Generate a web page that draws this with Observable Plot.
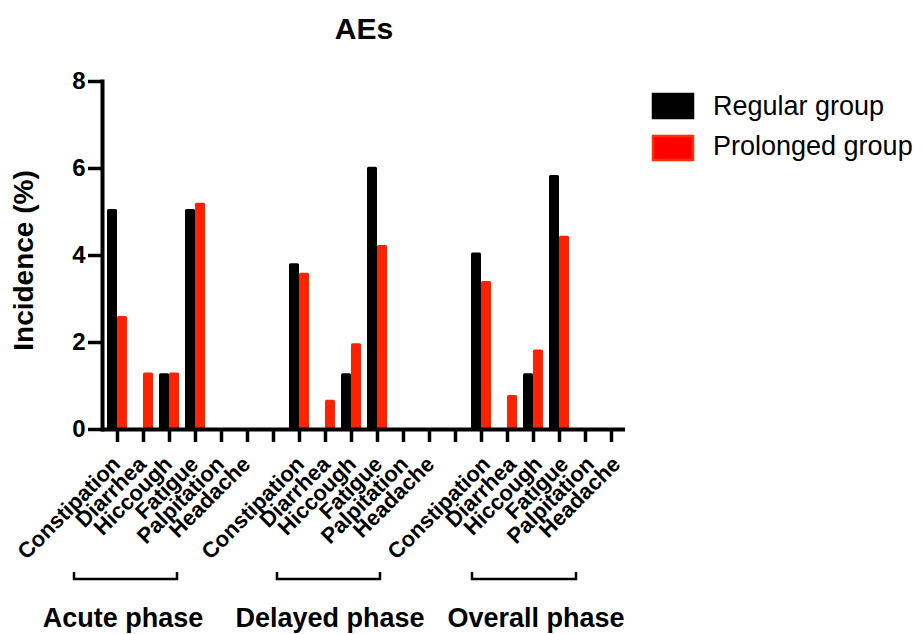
<!DOCTYPE html>
<html>
<head>
<meta charset="utf-8">
<script src="https://cdn.jsdelivr.net/npm/d3@7"></script>
<script src="https://cdn.jsdelivr.net/npm/@observablehq/plot@0.6"></script>
<style>
  html, body { margin: 0; padding: 0; background: #fff; }
  #chart { width: 922px; height: 634px; overflow: hidden; }
</style>
</head>
<body>
<div id="chart"></div>
<script>
// ---- data ----
const aes = ["Constipation", "Diarrhea", "Hiccough", "Fatigue", "Palpitation", "Headache"];
const phaseKeys = ["Acute", "Delayed", "Overall"];
const phaseNames = ["Acute phase", "Delayed phase", "Overall phase"];
const seriesNames = ["Regular group", "Prolonged group"];

const regularAcute     = [5.06, 0, 1.28, 5.06, 0, 0];
const prolongedAcute   = [2.60, 1.30, 1.30, 5.20, 0, 0];
const regularDelayed   = [3.81, 0, 1.28, 6.03, 0, 0];
const prolongedDelayed = [3.59, 0.67, 1.97, 4.23, 0, 0];
const regularOverall   = [4.06, 0, 1.28, 5.84, 0, 0];
const prolongedOverall = [3.40, 0.78, 1.83, 4.44, 0, 0];

const yTicks = [0, 2, 4, 6, 8];

// ---- build table ----
const regularByPhase = [regularAcute, regularDelayed, regularOverall];
const prolongedByPhase = [prolongedAcute, prolongedDelayed, prolongedOverall];
const domain = [];
const rows = [];
phaseKeys.forEach((p, i) => {
  aes.forEach((ae, j) => {
    const key = p + "|" + ae;
    domain.push(key);
    rows.push({key, ae, phase: p, regular: regularByPhase[i][j], prolonged: prolongedByPhase[i][j]});
  });
  if (i < phaseKeys.length - 1) domain.push("gap" + i);
});

const fontFamily = "'Liberation Sans', Arial, Helvetica, sans-serif";
const red = "#ff2200";
const labelShift = [-7, -5, -1];

const labelMarks = phaseKeys.map((p, i) =>
  Plot.text(rows.filter(r => r.phase === p), {
    x: "key", frameAnchor: "bottom", text: "ae",
    rotate: -45, textAnchor: "end", lineAnchor: "top",
    dx: labelShift[i], dy: 25, fontSize: 22, fontWeight: "bold", fill: "#000"
  })
);

const chart = Plot.plot({
  width: 922,
  height: 634,
  marginLeft: 102,
  marginRight: 297,
  marginTop: 81,
  marginBottom: 205,
  style: {fontFamily, background: "#fff", color: "#000", overflow: "visible"},
  x: {type: "band", domain, paddingInner: 0.24, paddingOuter: 0.03, axis: null},
  y: {domain: [0, 8], axis: null},
  marks: [
    Plot.barY(rows, {x: "key", y: "regular", fill: "#000", insetRight: 10, rx: 1.5}),
    Plot.barY(rows, {x: "key", y: "prolonged", fill: red, insetLeft: 10, rx: 1.5}),
    Plot.axisY(yTicks, {
      tickSize: 14, tickPadding: 3, strokeWidth: 3.5, stroke: "#000",
      fontSize: 24, fontWeight: "bold", fill: "#000", label: null, tickFormat: d => String(d)
    }),
    Plot.axisX({
      tickSize: 13, strokeWidth: 3.5, stroke: "#000", tickFormat: () => "", label: null
    }),
    Plot.frame({anchor: "left", strokeWidth: 4, stroke: "#000"}),
    Plot.ruleY([0], {strokeWidth: 4, stroke: "#000"}),
    ...labelMarks,
    Plot.text(["AEs"], {
      frameAnchor: "top", dy: -52, lineAnchor: "middle", textAnchor: "middle",
      fontSize: 30, fontWeight: "bold", fill: "#000"
    }),
    Plot.text(["Incidence (%)"], {
      frameAnchor: "left", dx: -78, dy: 5, rotate: -90, lineAnchor: "middle", textAnchor: "middle",
      fontSize: 28, fontWeight: "bold", fill: "#000"
    })
  ]
});

document.getElementById("chart").appendChild(chart);

// ---- decorations: legend, phase brackets and labels ----
const svg = d3.select(chart);
const legendFill = ["#000000", "#ff0000"];
const legendStroke = ["#000000", "#ff3300"];
seriesNames.forEach((name, i) => {
  svg.append("rect")
    .attr("x", 653).attr("y", 94 + i * 42)
    .attr("width", 40).attr("height", 24)
    .attr("fill", legendFill[i]).attr("stroke", legendStroke[i]).attr("stroke-width", 2.5);
  svg.append("text")
    .attr("x", 713).attr("y", 115 + i * 40)
    .attr("text-anchor", "start")
    .attr("font-family", fontFamily).attr("font-size", 27).attr("fill", "#000")
    .text(name);
});

const bracketSpans = [[74, 177], [277, 380], [472, 576]];
const phaseCenters = [123, 330, 536];
bracketSpans.forEach(([a, b], i) => {
  svg.append("path")
    .attr("d", `M${a},572V579H${b}V572`)
    .attr("fill", "none").attr("stroke", "#000").attr("stroke-width", 2.5);
  svg.append("text")
    .attr("x", phaseCenters[i]).attr("y", 627)
    .attr("text-anchor", "middle")
    .attr("font-family", fontFamily).attr("font-size", 27).attr("font-weight", "bold").attr("fill", "#000")
    .text(phaseNames[i]);
});
</script>
</body>
</html>
